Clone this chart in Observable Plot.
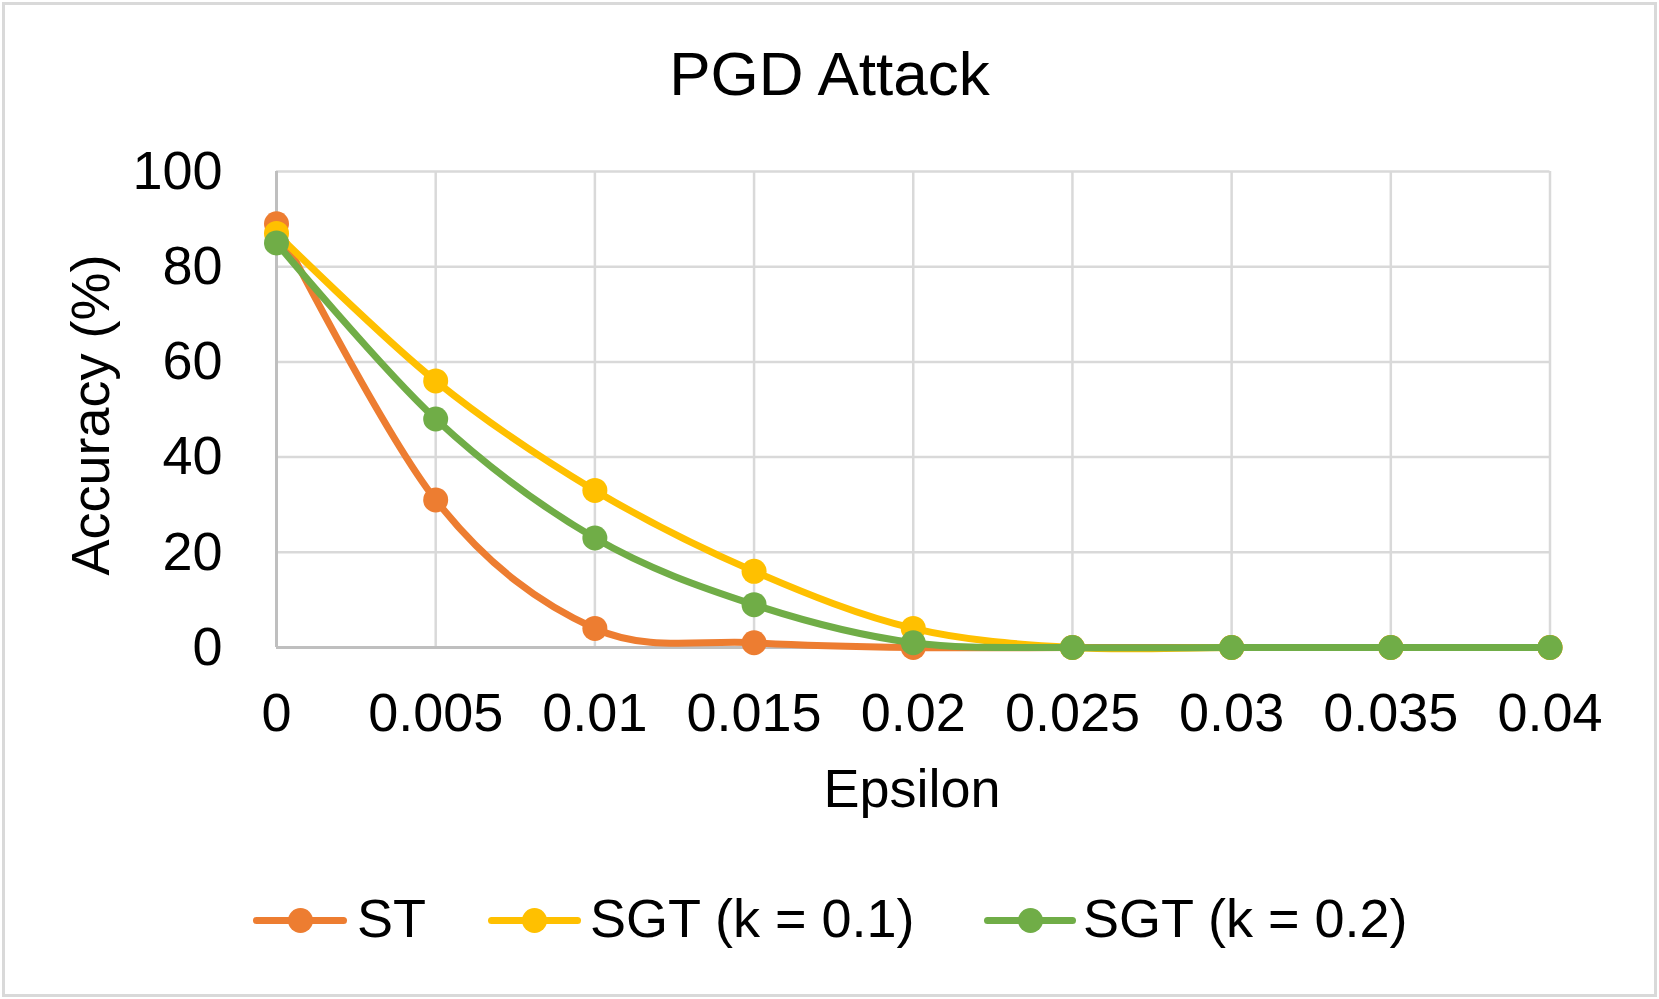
<!DOCTYPE html>
<html>
<head>
<meta charset="utf-8">
<script src="https://cdn.jsdelivr.net/npm/d3@7"></script>
<script src="https://cdn.jsdelivr.net/npm/@observablehq/plot@0.6"></script>
<style>
  html, body { margin: 0; padding: 0; background: #fff; }
  #chart { position: relative; width: 1659px; height: 999px; overflow: hidden;
    font-family: "Liberation Sans", Arial, sans-serif; color: #000; }
  #frame { position: absolute; left: 2px; top: 2px; width: 1649px; height: 989px;
    border: 3px solid #d9d9d9; }
  .txt { position: absolute; white-space: nowrap; line-height: 54px; font-size: 54px; }
  #title { position: absolute; left: 0; width: 1659px; text-align: center; top: 42.5px;
    font-size: 62px; line-height: 62px; }
  #plot { position: absolute; left: 0; top: 0; }
  .sw { position: absolute; }
</style>
</head>
<body>
<div id="chart">
  <div id="frame"></div>
  <div id="plot"></div>
  <div id="title">PGD Attack</div>
  <div id="ylab" class="txt">Accuracy (%)</div>
  <div id="xlab" class="txt">Epsilon</div>
  <div id="legend"></div>
</div>
<script>
// ---- data ----
const epsilon = [0, 0.005, 0.01, 0.015, 0.02, 0.025, 0.03, 0.035, 0.04];
const seriesNames = ["ST", "SGT (k = 0.1)", "SGT (k = 0.2)"];
const stValues = [89, 31, 4, 1, 0, 0, 0, 0, 0];
const sgt01Values = [87, 56, 33, 16, 4, 0, 0, 0, 0];
const sgt02Values = [85, 48, 23, 9, 1, 0, 0, 0, 0];
const seriesColors = ["#ED7D31", "#FFC000", "#70AD47"];
const xTicks = [0, 0.005, 0.01, 0.015, 0.02, 0.025, 0.03, 0.035, 0.04];
const xTickLabels = ["0", "0.005", "0.01", "0.015", "0.02", "0.025", "0.03", "0.035", "0.04"];
const yTicks = [0, 20, 40, 60, 80, 100];
const titleText = "PGD Attack";
const xLabel = "Epsilon";
const yLabel = "Accuracy (%)";

const allValues = [stValues, sgt01Values, sgt02Values];
const rows = [];
allValues.forEach((vals, si) => {
  vals.forEach((v, i) => rows.push({series: seriesNames[si], eps: epsilon[i], acc: v}));
});

const W = 1659, H = 760;
const marks = [
  Plot.gridX(xTicks, {stroke: "#d9d9d9", strokeOpacity: 1, strokeWidth: 2.5}),
  Plot.gridY(yTicks, {stroke: "#d9d9d9", strokeOpacity: 1, strokeWidth: 2.5}),
  Plot.ruleX([0], {stroke: "#bfbfbf", strokeWidth: 3}),
  Plot.ruleY([0], {stroke: "#bfbfbf", strokeWidth: 3}),
  Plot.axisX({ticks: xTicks, tickSize: 0, tickPadding: 44.7, label: null,
    tickFormat: d => xTickLabels[xTicks.indexOf(d)], fontSize: 54, fill: "#000"}),
  Plot.axisY({ticks: yTicks, tickSize: 0, tickPadding: 54, label: null, fontSize: 54, fill: "#000"})
];
seriesNames.forEach((name, si) => {
  const d = rows.filter(r => r.series === name);
  marks.push(Plot.line(d, {x: "eps", y: "acc", stroke: seriesColors[si], strokeWidth: 7,
    curve: "cardinal", tension: 0, strokeLinecap: "round", strokeLinejoin: "round"}));
  marks.push(Plot.dot(d, {x: "eps", y: "acc", r: 12.5, fill: seriesColors[si], stroke: "none"}));
});

const svg = Plot.plot({
  width: W, height: H,
  marginLeft: 276, marginRight: 109.5, marginTop: 171, marginBottom: H - 647,
  x: {domain: [0, 0.04]},
  y: {domain: [0, 100]},
  style: {fontFamily: '"Liberation Sans", Arial, sans-serif', fontSize: "54px", color: "#000", background: "transparent", overflow: "visible"},
  marks
});
document.getElementById("plot").appendChild(svg);

document.getElementById("title").textContent = titleText;
const yl = document.getElementById("ylab");
yl.textContent = yLabel;
yl.style.left = "90.3px"; yl.style.top = "415px";
yl.style.transform = "translate(-50%, -50%) rotate(-90deg)";
const xl = document.getElementById("xlab");
xl.textContent = xLabel;
xl.style.left = "912px"; xl.style.top = "761.3px"; xl.style.transform = "translateX(-50%)";

// legend
const legend = document.getElementById("legend");
const legendPos = [
  {lineL: 253, lineR: 347, textL: 357},
  {lineL: 488, lineR: 581, textL: 590},
  {lineL: 984, lineR: 1076, textL: 1083}
];
seriesNames.forEach((name, si) => {
  const p = legendPos[si];
  const ln = document.createElement("div");
  ln.className = "sw";
  Object.assign(ln.style, {left: p.lineL + "px", top: (920 - 3.5) + "px", width: (p.lineR - p.lineL) + "px",
    height: "7px", background: seriesColors[si], borderRadius: "3.5px"});
  legend.appendChild(ln);
  const dt = document.createElement("div");
  dt.className = "sw";
  const cx = (p.lineL + p.lineR) / 2;
  Object.assign(dt.style, {left: (cx - 12.5) + "px", top: (920 - 12.5) + "px", width: "25px", height: "25px",
    background: seriesColors[si], borderRadius: "50%"});
  legend.appendChild(dt);
  const tx = document.createElement("div");
  tx.className = "txt";
  tx.textContent = name;
  Object.assign(tx.style, {left: p.textL + "px", top: "891.3px"});
  legend.appendChild(tx);
});
</script>
</body>
</html>
